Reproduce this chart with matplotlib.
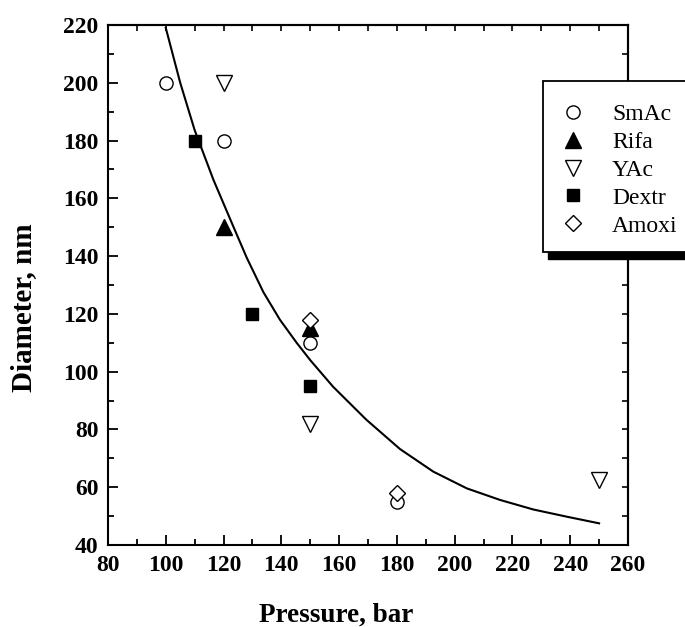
import matplotlib
matplotlib.use("Agg")
import matplotlib.pyplot as plt
from matplotlib.patches import Rectangle
from matplotlib.ticker import MultipleLocator

# ---- data ----
smac_x = [100, 120, 150, 180]
smac_y = [200, 180, 110, 55]
rifa_x = [120, 150]
rifa_y = [150, 115]
yac_x = [120, 150, 250]
yac_y = [200, 82, 62.5]
dextr_x = [110, 130, 150]
dextr_y = [180, 120, 95]
amoxi_x = [150, 180]
amoxi_y = [118, 58]
fit_x = [100, 105, 110, 116.5, 123.4, 128, 133.8, 139.5, 145.3, 150, 157.9,
         169.5, 181.1, 192.6, 204.2, 215.7, 227.2, 238.8, 250]
fit_y = [219, 200, 183.6, 166.4, 150.2, 139.5, 127.5, 118, 110, 104, 94.8,
         83.3, 73.2, 65.4, 59.6, 55.6, 52.3, 49.8, 47.5]

xticks = [80, 100, 120, 140, 160, 180, 200, 220, 240, 260]
yticks = [40, 60, 80, 100, 120, 140, 160, 180, 200, 220]

plt.rcParams['font.family'] = ['Liberation Serif', 'DejaVu Serif']

W, H = 685, 627
fig = plt.figure(figsize=(W / 100, H / 100), dpi=100)
L, R, T, B = 108, 628, 25, 545
ax = fig.add_axes([L / W, 1 - B / H, (R - L) / W, (B - T) / H])

ax.plot(fit_x, fit_y, color='black', lw=1.5, zorder=2, solid_joinstyle='round')
mk = dict(linestyle='none', markeredgecolor='black', markeredgewidth=1.0, zorder=3)
ax.plot(smac_x, smac_y, marker='o', ms=9.5, markerfacecolor='white', label='SmAc', **mk)
ax.plot(rifa_x, rifa_y, marker='^', ms=11, markerfacecolor='black', label='Rifa', **mk)
ax.plot(yac_x, yac_y, marker='v', ms=11, markerfacecolor='white', label='YAc', **mk)
ax.plot(dextr_x, dextr_y, marker='s', ms=9, markerfacecolor='black', label='Dextr', **mk)
ax.plot(amoxi_x, amoxi_y, marker='D', ms=8.5, markerfacecolor='white', label='Amoxi', **mk)

ax.set_xlim(80, 260)
ax.set_ylim(40, 220)
ax.set_xticks(xticks)
ax.set_yticks(yticks)
ax.xaxis.set_minor_locator(MultipleLocator(10))
ax.yaxis.set_minor_locator(MultipleLocator(10))
ax.tick_params(which='major', direction='in', length=7.5, width=1.3, labelsize=17, pad=7)
ax.tick_params(which='minor', direction='in', length=4.5, width=1.3)
for lbl in ax.get_xticklabels() + ax.get_yticklabels():
    lbl.set_fontweight('bold')
for s in ax.spines.values():
    s.set_linewidth(1.5)

# small inward ticks on the top and right sides
top = ax.secondary_xaxis('top')
top.set_xticks(xticks)
top.xaxis.set_minor_locator(MultipleLocator(10))
top.tick_params(which='both', direction='in', length=4, width=1.2, labeltop=False)
top.spines['top'].set_linewidth(1.5)
right = ax.secondary_yaxis('right')
right.set_yticks(yticks)
right.yaxis.set_minor_locator(MultipleLocator(10))
right.tick_params(which='both', direction='in', length=4.5, width=1.2, labelright=False)
right.spines['right'].set_linewidth(1.5)

ax.set_xlabel('Pressure, bar', fontsize=19.5, fontweight='bold', va='baseline')
ax.xaxis.set_label_coords((336 - L) / (R - L), (B - 622) / (B - T))
ax.set_ylabel('Diameter, nm', fontsize=21, fontweight='bold', va='center')
ax.yaxis.set_label_coords((24 - L) / (R - L), (B - 307.5) / (B - T))

# legend frame with offset black shadow
def fr(x0, y0, x1, y1):
    return (x0 / W, 1 - y1 / H), (x1 - x0) / W, (y1 - y0) / H

xy, w, h = fr(548, 87, 700, 259)
fig.patches.append(Rectangle(xy, w, h, transform=fig.transFigure, facecolor='black',
                             edgecolor='black', zorder=10))
xy, w, h = fr(543, 81, 700, 252)
fig.patches.append(Rectangle(xy, w, h, transform=fig.transFigure, facecolor='white',
                             edgecolor='black', linewidth=1.3, zorder=11))

leg = fig.legend(loc='upper left', bbox_to_anchor=(559 / W, 1 - 103.5 / H),
                 bbox_transform=fig.transFigure, frameon=False, fontsize=17,
                 handlelength=1.2, handletextpad=1.05, labelspacing=0.27,
                 borderaxespad=0, borderpad=0)
leg.set_zorder(12)

fig.savefig('out.png', dpi=100)
